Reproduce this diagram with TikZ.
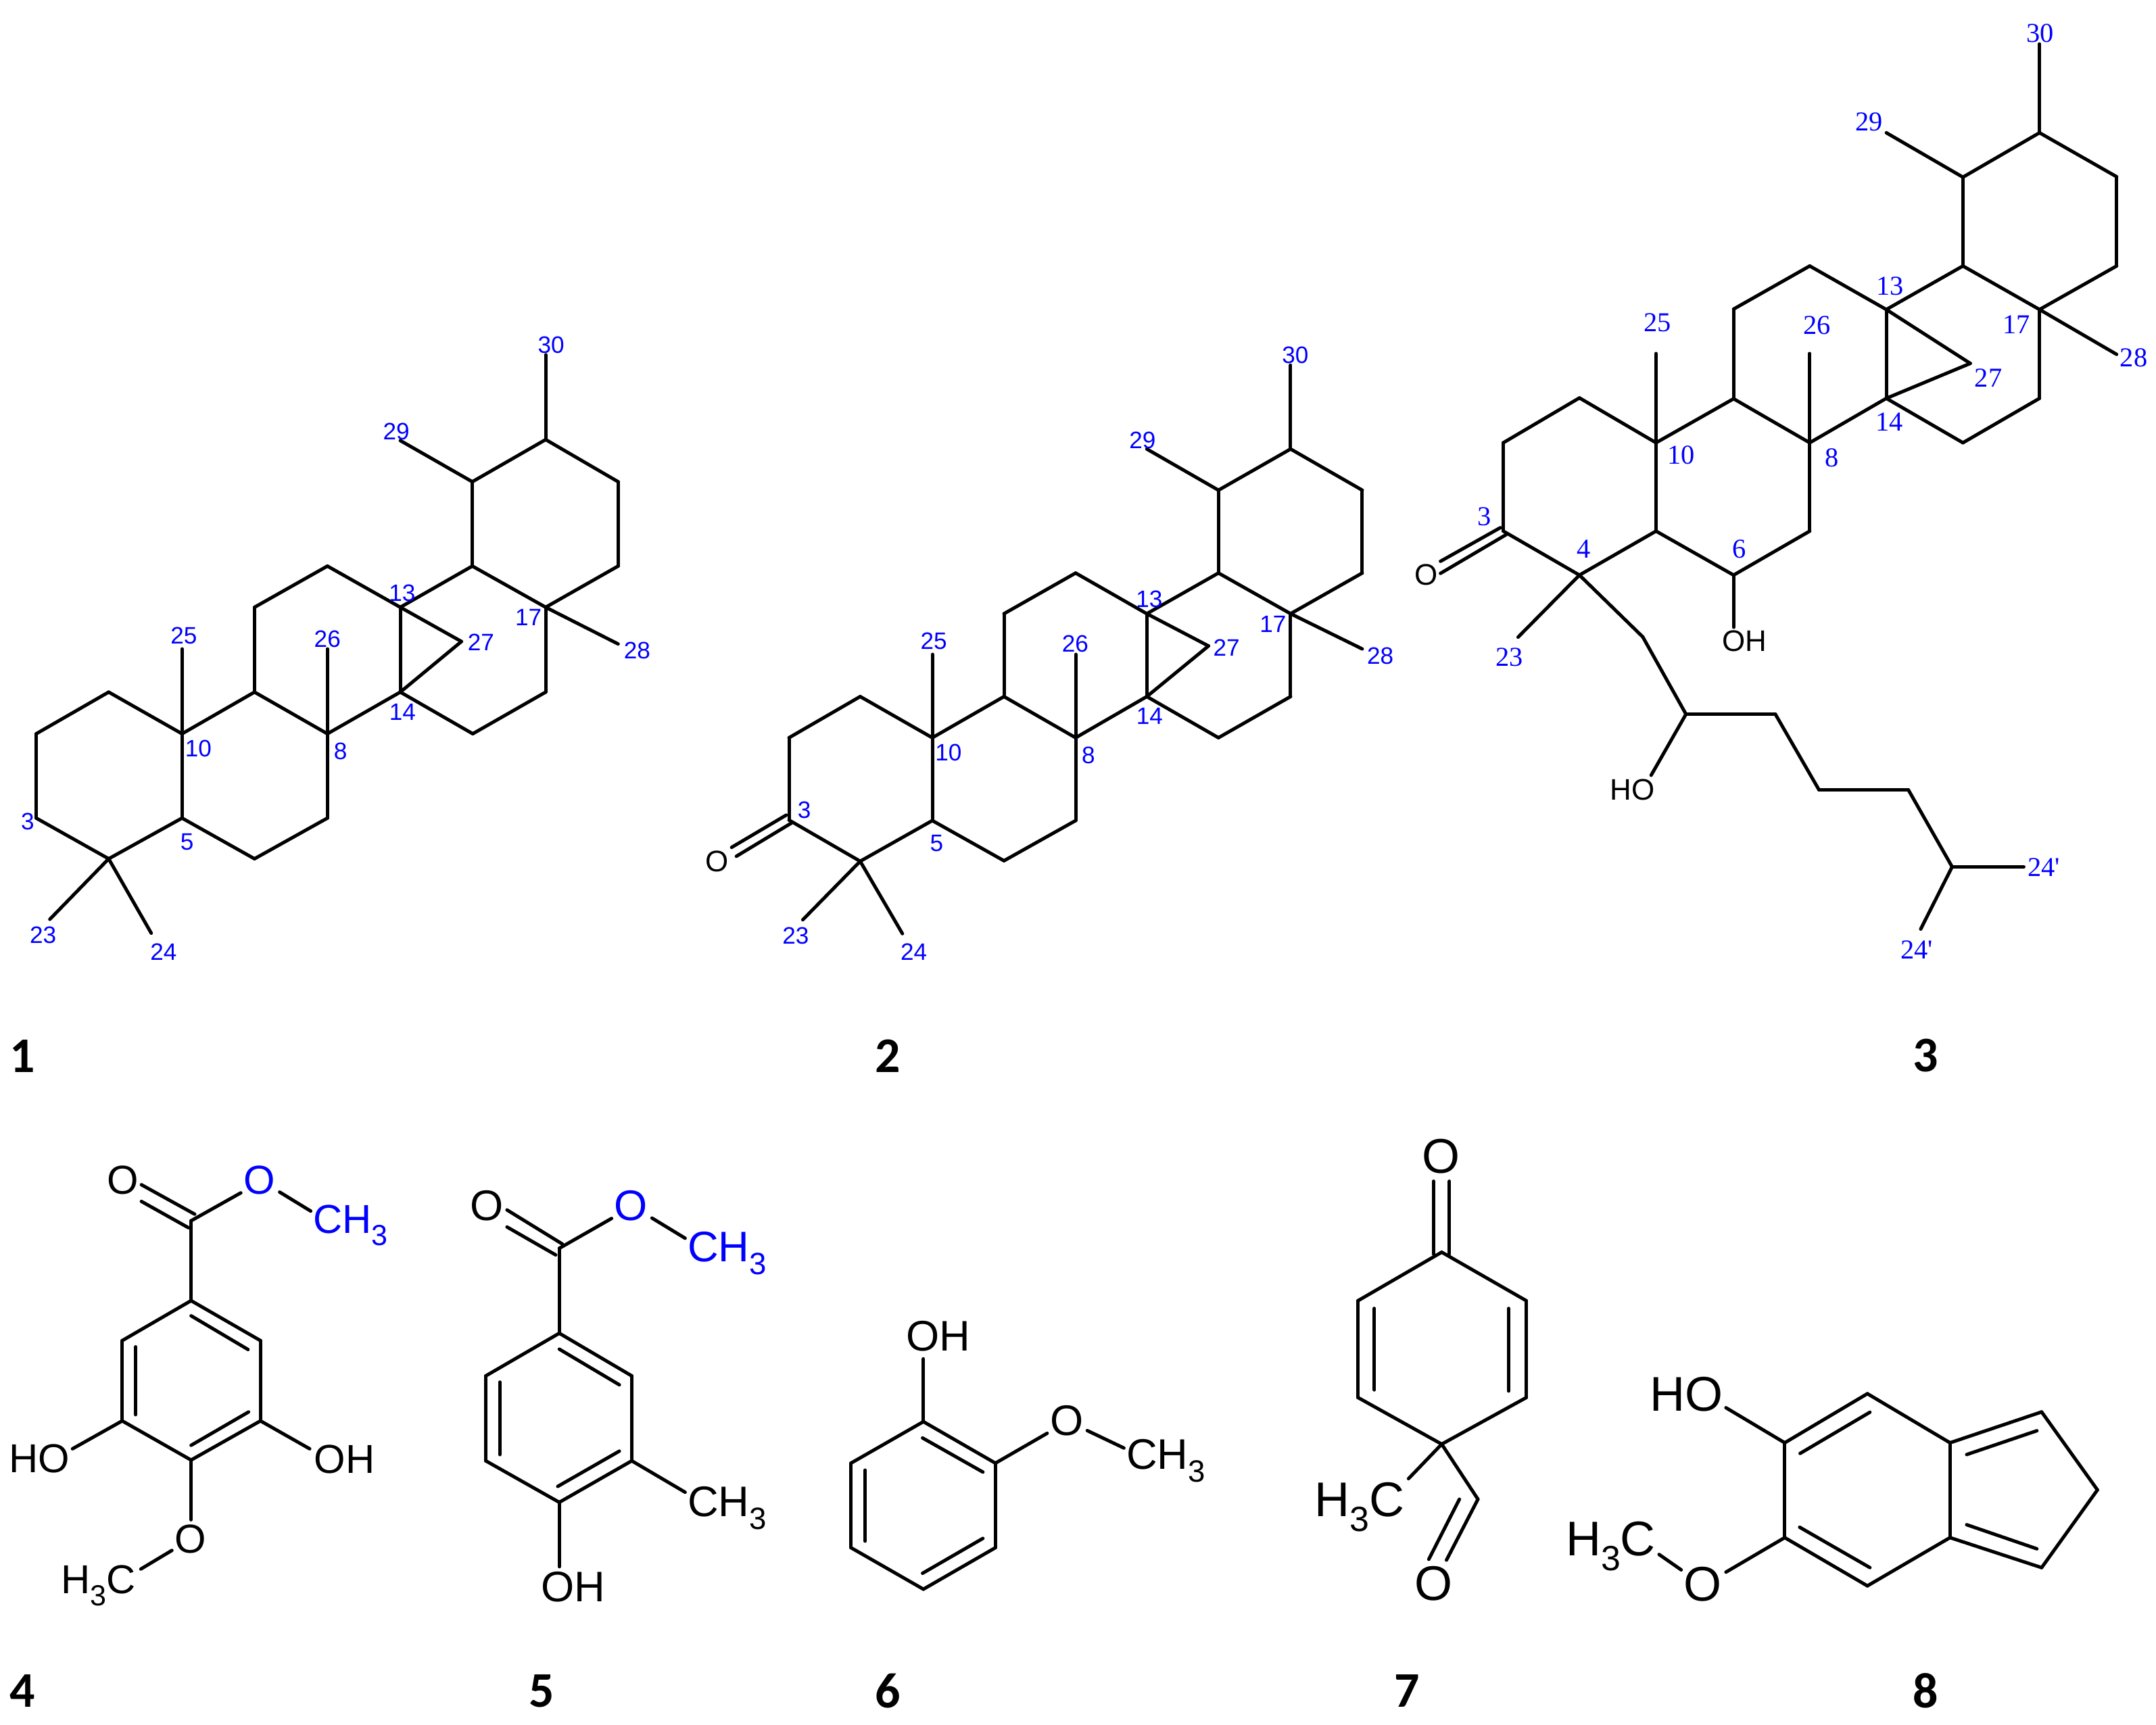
\documentclass[tikz,border=0pt]{standalone}
\usepackage{graphicx}
\usepackage{fontspec}
\setmainfont{Liberation Sans}
\newfontfamily\serifnum{Liberation Serif}
\newfontfamily\calib{Carlito}
\definecolor{numblue}{RGB}{0,0,255}
\newcommand\Sb[1]{\raisebox{-0.3em}{\scalebox{0.72}{#1}}}
\tikzset{
  bond/.style={draw=black,line width=1.42pt,line cap=round,line join=round},
  numA/.style={inner sep=0pt,text=numblue,font=\fontsize{10}{12}\selectfont},
  numB/.style={inner sep=0pt,text=numblue,font=\serifnum\fontsize{11.5}{13}\selectfont},
  atomS/.style={inner sep=0pt,text=black,font=\fontsize{12.5}{14}\selectfont},
  atomM/.style={inner sep=0pt,text=black,font=\fontsize{17}{20}\selectfont},
  atomMb/.style={atomM,text=numblue},
  atomN/.style={inner sep=0pt,text=black,font=\fontsize{18}{21}\selectfont},
  atomNb/.style={atomN,text=numblue},
  atomL/.style={inner sep=0pt,text=black,font=\fontsize{20.5}{24}\selectfont},
  cpd/.style={inner sep=0pt,text=black,font=\calib\bfseries\fontsize{21}{25}\selectfont}
}
\newcommand\Cc[3]{\coordinate (#1) at (#2,#3);}
\newcommand\Bonds[1]{\foreach \pa/\pb in {#1} {\draw[bond] (\pa) -- (\pb);}}
\begin{document}
\begin{tikzpicture}
\useasboundingbox (0,0) rectangle (31.89,25.51);
% ---------- compound 1
\begin{scope}[shift={(0cm,21.01cm)},x=0.0066964cm,y=-0.0073342cm]
\Cc{1a}{240}{782}\Cc{1b}{80}{866}\Cc{1c}{80}{1036}\Cc{1d}{240}{1118}\Cc{1e}{402}{1036}\Cc{1f}{402}{866}
\Cc{1g}{562}{782}\Cc{1h}{562}{611}\Cc{1i}{723}{528}\Cc{1j}{884}{611}\Cc{1k}{884}{782}\Cc{1l}{723}{866}
\Cc{1m}{723}{1036}\Cc{1n}{562}{1118}\Cc{1o}{1043}{528}\Cc{1p}{1043}{358}\Cc{1q}{1205}{273}\Cc{1r}{1365}{358}
\Cc{1s}{1365}{528}\Cc{1t}{1205}{611}\Cc{1u}{1205}{782}\Cc{1v}{1044}{866}\Cc{1w}{1019}{680}
\Cc{1m25}{402}{695}\Cc{1m26}{723}{695}\Cc{1m29}{884}{275}\Cc{1m30}{1205}{102}\Cc{1m28}{1365}{685}\Cc{1m23}{110}{1240}\Cc{1m24}{334}{1268}
\Bonds{1a/1b,1b/1c,1c/1d,1d/1e,1e/1f,1f/1a,1f/1g,1g/1h,1h/1i,1i/1j,1j/1k,1k/1l,1l/1g,1l/1m,1m/1n,1n/1e,1j/1o,1o/1p,1p/1q,1q/1r,1r/1s,1s/1t,1t/1o,1t/1u,1u/1v,1v/1k,1j/1w,1w/1k,1f/1m25,1l/1m26,1p/1m29,1q/1m30,1t/1m28,1d/1m23,1d/1m24}
\node[numA] (1n25) at (406,668) {25};
\node[numA] (1n26) at (723,675) {26};
\node[numA] (1n30) at (1217,82) {30};
\node[numA] (1n29) at (875,257) {29};
\node[numA] (1n13) at (888,582) {13};
\node[numA] (1n17) at (1167,632) {17};
\node[numA] (1n27) at (1062,682) {27};
\node[numA] (1n28) at (1407,698) {28};
\node[numA] (1n14) at (889,822) {14};
\node[numA] (1n10) at (438,896) {10};
\node[numA] (1n8) at (752,901) {8};
\node[numA] (1n3) at (61,1043) {3};
\node[numA] (1n5) at (413,1084) {5};
\node[numA] (1n23) at (95,1272) {23};
\node[numA] (1n24) at (361,1305) {24};
\end{scope}
% ---------- compound 2
\begin{scope}[shift={(10cm,21.01cm)},x=0.0070153cm,y=-0.0073342cm]
\Cc{2a}{388}{791}\Cc{2b}{238}{874}\Cc{2c}{238}{1040}\Cc{2d}{388}{1123}\Cc{2e}{540}{1041}\Cc{2f}{540}{874}
\Cc{2g}{691}{791}\Cc{2h}{691}{624}\Cc{2i}{842}{542}\Cc{2j}{992}{624}\Cc{2k}{992}{791}\Cc{2l}{842}{874}
\Cc{2m}{842}{1041}\Cc{2n}{691}{1122}\Cc{2o}{1143}{542}\Cc{2p}{1143}{375}\Cc{2q}{1295}{292}\Cc{2r}{1446}{375}
\Cc{2s}{1446}{542}\Cc{2t}{1295}{624}\Cc{2u}{1295}{791}\Cc{2v}{1143}{874}\Cc{2w}{1122}{689}
\Cc{2m25}{540}{706}\Cc{2m26}{842}{706}\Cc{2m29}{992}{292}\Cc{2m30}{1295}{123}\Cc{2m28}{1446}{695}\Cc{2m23}{267}{1241}\Cc{2m24}{477}{1269}
\Cc{2x1}{232}{1030}\Cc{2x2}{117}{1095}\Cc{2y1}{243}{1046}\Cc{2y2}{127}{1113}
\Bonds{2a/2b,2b/2c,2c/2d,2d/2e,2e/2f,2f/2a,2f/2g,2g/2h,2h/2i,2i/2j,2j/2k,2k/2l,2l/2g,2l/2m,2m/2n,2n/2e,2j/2o,2o/2p,2p/2q,2q/2r,2r/2s,2s/2t,2t/2o,2t/2u,2u/2v,2v/2k,2j/2w,2w/2k,2f/2m25,2l/2m26,2p/2m29,2q/2m30,2t/2m28,2d/2m23,2d/2m24,2x1/2x2,2y1/2y2}
\node[atomS] (2O) at (87,1123) {O};
\node[numA] (2n25) at (543,679) {25};
\node[numA] (2n26) at (841,685) {26};
\node[numA] (2n30) at (1305,103) {30};
\node[numA] (2n29) at (983,274) {29};
\node[numA] (2n13) at (997,595) {13};
\node[numA] (2n17) at (1258,645) {17};
\node[numA] (2n27) at (1160,692) {27};
\node[numA] (2n28) at (1484,709) {28};
\node[numA] (2n14) at (998,830) {14};
\node[numA] (2n10) at (574,904) {10};
\node[numA] (2n8) at (869,909) {8};
\node[numA] (2n3) at (270,1020) {3};
\node[numA] (2n5) at (549,1087) {5};
\node[numA] (2n23) at (252,1273) {23};
\node[numA] (2n24) at (501,1306) {24};
\end{scope}
% ---------- compound 3, rings
\begin{scope}[shift={(20.5cm,25.51cm)},x=0.0072640cm,y=-0.0063776cm]
\Cc{3a}{394}{923}\Cc{3b}{239}{1027}\Cc{3c}{239}{1232}\Cc{3d}{394}{1334}\Cc{3e}{550}{1232}\Cc{3f}{550}{1027}
\Cc{3g}{708}{925}\Cc{3h}{708}{717}\Cc{3i}{863}{617}\Cc{3j}{1019}{718}\Cc{3k}{1019}{924}\Cc{3l}{863}{1027}
\Cc{3m}{863}{1232}\Cc{3n}{708}{1334}\Cc{3o}{1175}{617}\Cc{3p}{1175}{411}\Cc{3q}{1331}{308}\Cc{3r}{1488}{410}
\Cc{3s}{1488}{617}\Cc{3t}{1331}{718}\Cc{3u}{1331}{924}\Cc{3v}{1175}{1027}\Cc{3w}{1190}{843}
\Cc{3m25}{550}{820}\Cc{3m26}{863}{820}\Cc{3m29}{1019}{308}\Cc{3m30}{1331}{102}\Cc{3m28}{1488}{822}\Cc{3m23}{269}{1478}
\Cc{3x1}{233}{1224}\Cc{3x2}{111}{1302}\Cc{3y1}{245}{1240}\Cc{3y2}{111}{1330}\Cc{3oh}{708}{1455}
\Bonds{3a/3b,3b/3c,3c/3d,3d/3e,3e/3f,3f/3a,3f/3g,3g/3h,3h/3i,3i/3j,3j/3k,3k/3l,3l/3g,3l/3m,3m/3n,3n/3e,3j/3o,3o/3p,3p/3q,3q/3r,3r/3s,3s/3t,3t/3o,3t/3u,3u/3v,3v/3k,3j/3w,3w/3k,3f/3m25,3l/3m26,3p/3m29,3q/3m30,3t/3m28,3d/3m23,3x1/3x2,3y1/3y2,3n/3oh}
\node[atomS] (3O) at (82,1333) {O};
\node[atomS] (3OH) at (730,1487) {OH};
\node[numB] (3n30) at (1332,78) {30};
\node[numB] (3n29) at (984,283) {29};
\node[numB] (3n13) at (1027,663) {13};
\node[numB] (3n25) at (553,748) {25};
\node[numB] (3n26) at (878,754) {26};
\node[numB] (3n17) at (1284,753) {17};
\node[numB] (3n27) at (1227,877) {27};
\node[numB] (3n28) at (1523,830) {28};
\node[numB] (3n14) at (1025,979) {14};
\node[numB] (3n10) at (601,1056) {10};
\node[numB] (3n8) at (908,1062) {8};
\node[numB] (3n3) at (200,1199) {3};
\node[numB] (3n4) at (403,1273) {4};
\node[numB] (3n6) at (719,1273) {6};
\node[numB] (3n23) at (251,1524) {23};
\end{scope}
% ---------- compound 3, side chain
\begin{scope}[shift={(20.5cm,18.01cm)},x=0.0072640cm,y=-0.0054209cm]
\Cc{3c1}{523}{355}\Cc{3c2}{611}{566}\Cc{3c3}{793}{566}\Cc{3c4}{882}{773}\Cc{3c5}{1064}{773}\Cc{3c6}{1153}{983}
\Cc{3e1}{1299}{983}\Cc{3e2}{1089}{1153}\Cc{3ho}{540}{733}
\Bonds{3d/3c1,3c1/3c2,3c2/3c3,3c3/3c4,3c4/3c5,3c5/3c6,3c6/3e1,3c6/3e2,3c2/3ho}
\node[atomS] (3HO) at (502,772) {HO};
\node[numB] (3n24a) at (1340,985) {24'};
\node[numB] (3n24b) at (1081,1210) {24'};
\end{scope}
% ---------- compounds 4 and 5
\begin{scope}[shift={(0cm,9.01cm)},x=0.0076531cm,y=-0.0057398cm]
\Cc{4a}{369}{478}\Cc{4b}{503}{581}\Cc{4c}{503}{788}\Cc{4d}{369}{889}\Cc{4e}{236}{788}\Cc{4f}{236}{581}\Cc{4g}{369}{272}
\Cc{4i1}{262}{597}\Cc{4i2}{262}{772}\Cc{4i3}{369}{517}\Cc{4i4}{479}{604}\Cc{4i5}{480}{765}\Cc{4i6}{369}{851}
\Cc{4x1}{376}{255}\Cc{4x2}{273}{179}\Cc{4y1}{364}{290}\Cc{4y2}{273}{222}
\Cc{4o1}{465}{200}\Cc{4o2}{540}{198}\Cc{4o3}{600}{247}\Cc{4ho}{140}{860}\Cc{4oh}{598}{860}\Cc{4p1}{369}{1043}\Cc{4p2}{332}{1122}\Cc{4p3}{272}{1170}
\Bonds{4a/4b,4b/4c,4c/4d,4d/4e,4e/4f,4f/4a,4a/4g,4i1/4i2,4i3/4i4,4i5/4i6,4x1/4x2,4y1/4y2,4g/4o1,4o2/4o3,4e/4ho,4c/4oh,4d/4p1,4p2/4p3}
\node[atomM] (4O1) at (237,168) {O};
\node[atomMb] (4O2) at (501,168) {O};
\node[atomMb,anchor=base west] (4CH3) at (604,305) {CH\Sb{3}};
\node[atomM] (4HO) at (76,886) {HO};
\node[atomM] (4OH) at (665,887) {OH};
\node[atomM] (4O3) at (368,1092) {O};
\node[atomM,anchor=base west] (4H3C) at (117,1233) {H\Sb{3}C};
% compound 5
\Cc{5a}{1080}{562}\Cc{5b}{1220}{672}\Cc{5c}{1220}{891}\Cc{5d}{1080}{998}\Cc{5e}{938}{891}\Cc{5f}{938}{672}\Cc{5g}{1080}{343}
\Cc{5i1}{965}{688}\Cc{5i2}{965}{875}\Cc{5i3}{1080}{603}\Cc{5i4}{1196}{695}\Cc{5i5}{1196}{866}\Cc{5i6}{1077}{957}
\Cc{5x1}{1086}{332}\Cc{5x2}{979}{244}\Cc{5y1}{1073}{360}\Cc{5y2}{979}{288}
\Cc{5o1}{1181}{266}\Cc{5o2}{1259}{265}\Cc{5o3}{1323}{317}\Cc{5me}{1323}{972}\Cc{5oh}{1080}{1164}
\Bonds{5a/5b,5b/5c,5c/5d,5d/5e,5e/5f,5f/5a,5a/5g,5i1/5i2,5i3/5i4,5i5/5i6,5x1/5x2,5y1/5y2,5g/5o1,5o2/5o3,5c/5me,5d/5oh}
\node[atomN] (5O1) at (940,233) {O};
\node[atomNb] (5O2) at (1218,233) {O};
\node[atomNb,anchor=base west] (5CH3a) at (1327,378) {CH\Sb{3}};
\node[atomN,anchor=base west] (5CH3b) at (1327,1035) {CH\Sb{3}};
\node[atomN] (5OH) at (1107,1216) {OH};
\end{scope}
% ---------- compounds 6 and 7
\begin{scope}[shift={(12cm,9.01cm)},x=0.0063776cm,y=-0.0057398cm]
\Cc{6a}{260}{790}\Cc{6b}{427}{897}\Cc{6c}{427}{1115}\Cc{6d}{260}{1222}\Cc{6e}{92}{1115}\Cc{6f}{92}{897}
\Cc{6i1}{258}{832}\Cc{6i2}{398}{920}\Cc{6i3}{398}{1091}\Cc{6i4}{258}{1181}\Cc{6i5}{125}{1098}\Cc{6i6}{125}{915}
\Cc{6oh}{260}{628}\Cc{6o1}{547}{820}\Cc{6o2}{640}{813}\Cc{6o3}{725}{858}
\Bonds{6a/6b,6b/6c,6c/6d,6d/6e,6e/6f,6f/6a,6i1/6i2,6i3/6i4,6i5/6i6,6a/6oh,6b/6o1,6o2/6o3}
\node[atomN] (6OH) at (294,570) {OH};
\node[atomN] (6O) at (593,787) {O};
\node[atomN,anchor=base west] (6CH3) at (730,913) {CH\Sb{3}};
% compound 7
\Cc{7a}{1462}{353}\Cc{7b}{1658}{478}\Cc{7c}{1658}{728}\Cc{7d}{1462}{848}\Cc{7e}{1268}{728}\Cc{7f}{1268}{478}
\Cc{7i1}{1306}{498}\Cc{7i2}{1306}{708}\Cc{7i3}{1617}{498}\Cc{7i4}{1617}{711}
\Cc{7x1}{1443}{170}\Cc{7x2}{1443}{358}\Cc{7y1}{1480}{170}\Cc{7y2}{1480}{358}
\Cc{7me}{1385}{937}\Cc{7g}{1546}{990}\Cc{7z1}{1473}{1147}\Cc{7z2}{1503}{990}\Cc{7z3}{1432}{1145}
\Bonds{7a/7b,7b/7c,7c/7d,7d/7e,7e/7f,7f/7a,7i1/7i2,7i3/7i4,7x1/7x2,7y1/7y2,7d/7me,7d/7g,7g/7z1,7z2/7z3}
\node[atomL] (7O1) at (1461,105) {O};
\node[atomL] (7O2) at (1443,1208) {O};
\node[atomL,anchor=base west] (7H3C) at (1166,1035) {H\Sb{3}C};
\end{scope}
% ---------- compound 8
\begin{scope}[shift={(22cm,6.51cm)},x=0.0063074cm,y=-0.0041518cm]
\Cc{8a}{892}{390}\Cc{8b}{1086}{565}\Cc{8c}{1086}{903}\Cc{8d}{892}{1075}\Cc{8e}{698}{903}\Cc{8f}{698}{565}
\Cc{8g}{1301}{455}\Cc{8h}{1432}{733}\Cc{8j}{1301}{1010}
\Cc{8i1}{898}{456}\Cc{8i2}{734}{603}\Cc{8i3}{898}{1010}\Cc{8i4}{733}{866}\Cc{8i5}{1125}{607}\Cc{8i6}{1290}{522}\Cc{8i7}{1125}{857}\Cc{8i8}{1290}{943}
\Cc{8ho}{560}{440}\Cc{8o1}{560}{1026}\Cc{8o2}{455}{1018}\Cc{8o3}{403}{963}
\Bonds{8a/8b,8b/8c,8c/8d,8d/8e,8e/8f,8f/8a,8b/8g,8g/8h,8h/8j,8j/8c,8i1/8i2,8i3/8i4,8i5/8i6,8i7/8i8,8f/8ho,8e/8o1,8o2/8o3}
\node[atomL] (8HO) at (468,393) {HO};
\node[atomL] (8O) at (506,1070) {O};
\node[atomL,anchor=base west] (8H3C) at (183,968) {H\Sb{3}C};
\end{scope}
% ---------- compound numbers
\node[cpd] (cpd1) at (0.335,9.885) {1};
\node[cpd] (cpd2) at (13.13,9.885) {2};
\node[cpd] (cpd3) at (28.48,9.89) {3};
\node[cpd] (cpd4) at (0.337,0.49) {4};
\node[cpd] (cpd5) at (8.01,0.49) {5};
\node[cpd] (cpd6) at (13.13,0.49) {6};
\node[cpd] (cpd7) at (20.81,0.49) {7};
\node[cpd] (cpd8) at (28.48,0.50) {8};
\end{tikzpicture}
\end{document}
